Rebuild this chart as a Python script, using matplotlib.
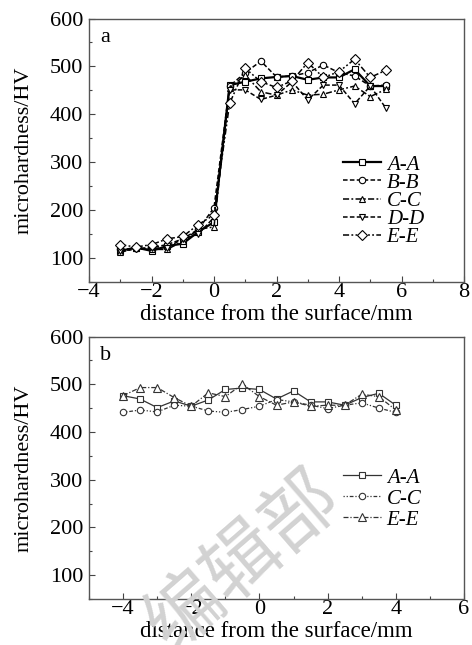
import matplotlib
matplotlib.use("Agg")
import matplotlib.pyplot as plt
from matplotlib.ticker import MultipleLocator

plt.rcParams['font.family'] = ['Liberation Serif', 'DejaVu Serif']

# ---- Panel a data ----
xa = [-3, -2.5, -2, -1.5, -1, -0.5, 0, 0.5, 1, 1.5, 2, 2.5, 3, 3.5, 4, 4.5, 5, 5.5]
a_AA = [115, 122, 115, 125, 130, 155, 175, 461, 468, 475, 478, 480, 472, 477, 477, 494, 459, 459]
a_BB = [118, 120, 122, 128, 140, 160, 205, 459, 487, 511, 478, 480, 487, 503, 487, 480, 459, 461]
a_CC = [112, 120, 118, 118, 135, 160, 165, 455, 482, 447, 440, 451, 440, 442, 451, 459, 437, 452]
a_DD = [115, 118, 120, 122, 140, 150, 185, 451, 451, 431, 440, 468, 430, 461, 461, 422, 459, 413]
a_EE = [128, 123, 128, 140, 145, 170, 190, 423, 496, 468, 456, 470, 508, 477, 489, 515, 477, 492]

# ---- Panel b data ----
xb = [-4, -3.5, -3, -2.5, -2, -1.5, -1, -0.5, 0, 0.5, 1, 1.5, 2, 2.5, 3, 3.5, 4]
b_AA = [476, 469, 451, 465, 454, 467, 489, 492, 489, 469, 486, 463, 463, 456, 472, 481, 456]
b_CC = [441, 446, 442, 456, 454, 444, 441, 447, 454, 468, 463, 456, 449, 456, 461, 450, 441]
b_EE = [476, 493, 493, 472, 454, 482, 474, 500, 474, 456, 463, 454, 456, 456, 479, 474, 446]

labels_a = ['A-A', 'B-B', 'C-C', 'D-D', 'E-E']
labels_b = ['A-A', 'C-C', 'E-E']

FS_TICK = 16
FS_LAB = 16.5

fig = plt.figure(figsize=(4.72, 6.45), dpi=100)
W, H = 472, 645
axa = fig.add_axes([89 / W, 1 - 282 / H, 375 / W, 263.5 / H])
axb = fig.add_axes([89 / W, 1 - 599 / H, 375 / W, 262.5 / H])

dashdotdot = (0, (4, 1.5, 1.2, 1.5, 1.2, 1.5))
style_a = [
    dict(marker='s', ls='-', lw=1.6, ms=4.2),
    dict(marker='o', ls=(0, (3, 1.5)), lw=1.1, ms=4.6),
    dict(marker='^', ls=(0, (4, 1.5, 1.2, 1.5)), lw=1.1, ms=5.0),
    dict(marker='v', ls=(0, (3, 1.5)), lw=1.1, ms=5.0),
    dict(marker='D', ls=dashdotdot, lw=1.1, ms=4.6),
]
ys_a = [a_AA, a_BB, a_CC, a_DD, a_EE]
for y, lab, st in zip(ys_a, labels_a, style_a):
    axa.plot(xa, y, color='black', marker=st['marker'], ls=st['ls'], lw=st['lw'],
             markersize=st['ms'], markerfacecolor='white', markeredgecolor='black',
             markeredgewidth=0.8, label=lab)

style_b = [
    dict(marker='s', ls='-', lw=0.9, ms=4.6),
    dict(marker='o', ls=(0, (1, 1.5, 1, 1.5, 3, 1.5)), lw=0.9, ms=4.6),
    dict(marker='^', ls=(0, (4, 1.5, 1, 1.5)), lw=0.9, ms=5.2),
]
ys_b = [b_AA, b_CC, b_EE]
for y, lab, st in zip(ys_b, labels_b, style_b):
    axb.plot(xb, y, color='#333333', marker=st['marker'], ls=st['ls'], lw=st['lw'],
             markersize=st['ms'], markerfacecolor='white', markeredgecolor='#333333',
             markeredgewidth=0.8, label=lab)

for ax, xlim, txt in [(axa, (-4, 8), 'a'), (axb, (-5, 6), 'b')]:
    ax.set_facecolor('none')
    ax.set_xlim(*xlim)
    ax.set_ylim(50, 600)
    ax.xaxis.set_major_locator(MultipleLocator(2))
    ax.xaxis.set_minor_locator(MultipleLocator(1))
    ax.yaxis.set_major_locator(MultipleLocator(100))
    ax.yaxis.set_minor_locator(MultipleLocator(50))
    ax.tick_params(which='both', direction='in', top=False, right=False,
                   labelsize=FS_TICK, color='#444444')
    ax.tick_params(axis='x', pad=1)
    ax.tick_params(axis='y', pad=4)
    ax.tick_params(which='major', length=4, width=0.8)
    ax.tick_params(which='minor', length=2.5, width=0.8)
    for sp in ax.spines.values():
        sp.set_color('#555555')
        sp.set_linewidth(1.0)
    ax.set_xlabel('distance from the surface/mm', fontsize=FS_LAB, labelpad=1)
    ax.set_ylabel('microhardness/HV', fontsize=FS_LAB - 0.5, labelpad=12)
    ax.text(0.03, 0.965, txt, transform=ax.transAxes, fontsize=FS_TICK,
            ha='left', va='top')
    ax.set_yticks([100, 200, 300, 400, 500, 600])

axa.set_xticks([-4, -2, 0, 2, 4, 6, 8])
axb.set_xticks([-4, -2, 0, 2, 4, 6])

leg_kw = dict(loc='upper left', frameon=False, fontsize=15, handlelength=1.8,
              handletextpad=0.3, borderpad=0.0, borderaxespad=0.0)
leg_a = axa.legend(bbox_to_anchor=(254 / 375, 1 - (155 - 18.5) / 263.5),
                   labelspacing=-0.07, **leg_kw)
for t in leg_a.get_texts():
    t.set_fontstyle('italic')
leg_b = axb.legend(bbox_to_anchor=(254 / 375, 1 - (468 - 336.5) / 262.5),
                   labelspacing=0.07, **leg_kw)
for t in leg_b.get_texts():
    t.set_fontstyle('italic')

fig.text(243 / W, 1 - 562 / H, '编辑部', fontsize=55, rotation=41,
         color='#d2d2d2', ha='center', va='center', fontweight='light',
         family=['Noto Sans CJK SC', 'DejaVu Sans'], zorder=0)

fig.savefig('out.png', dpi=100)
